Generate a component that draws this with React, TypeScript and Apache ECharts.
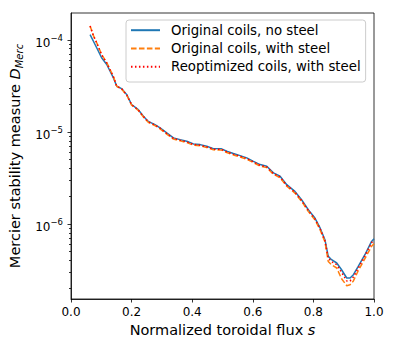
import React, { useEffect, useRef } from "react";
import * as echarts from "echarts";

const S = [0.063, 0.074, 0.086, 0.101, 0.118, 0.14, 0.151, 0.167, 0.184, 0.2, 0.222, 0.239, 0.255, 0.277, 0.294, 0.316, 0.338, 0.36, 0.382, 0.404, 0.426, 0.448, 0.47, 0.497, 0.514, 0.536, 0.558, 0.58, 0.602, 0.624, 0.646, 0.668, 0.69, 0.712, 0.739, 0.761, 0.783, 0.805, 0.822, 0.838, 0.849, 0.86, 0.877, 0.893, 0.91, 0.921, 0.932, 0.948, 0.97, 0.992, 1.0];

const noSteel = [1.13e-4, 9.58e-5, 7.98e-5, 6.33e-5, 5.35e-5, 3.83e-5, 3.11e-5, 2.93e-5, 2.52e-5, 1.97e-5, 1.73e-5, 1.47e-5, 1.29e-5, 1.19e-5, 1.10e-5, 9.68e-6, 8.54e-6, 8.18e-6, 7.84e-6, 7.35e-6, 7.22e-6, 6.92e-6, 6.53e-6, 6.49e-6, 6.11e-6, 5.77e-6, 5.48e-6, 5.18e-6, 4.75e-6, 4.38e-6, 4.20e-6, 3.56e-6, 3.27e-6, 2.65e-6, 2.24e-6, 1.82e-6, 1.42e-6, 1.15e-6, 8.98e-7, 6.70e-7, 4.41e-7, 4.06e-7, 3.74e-7, 3.16e-7, 2.57e-7, 2.57e-7, 2.79e-7, 3.43e-7, 4.60e-7, 6.42e-7, 6.87e-7];

const withSteel = [1.40e-4, 1.10e-4, 9.05e-5, 6.87e-5, 5.62e-5, 3.96e-5, 3.10e-5, 2.90e-5, 2.48e-5, 1.94e-5, 1.70e-5, 1.44e-5, 1.26e-5, 1.16e-5, 1.07e-5, 9.40e-6, 8.30e-6, 7.95e-6, 7.60e-6, 7.12e-6, 7.00e-6, 6.72e-6, 6.33e-6, 6.30e-6, 5.92e-6, 5.58e-6, 5.30e-6, 5.01e-6, 4.60e-6, 4.23e-6, 4.06e-6, 3.44e-6, 3.15e-6, 2.55e-6, 2.15e-6, 1.75e-6, 1.36e-6, 1.10e-6, 8.60e-7, 6.37e-7, 3.89e-7, 3.58e-7, 3.30e-7, 2.52e-7, 2.12e-7, 2.17e-7, 2.39e-7, 3.08e-7, 4.17e-7, 5.67e-7, 6.06e-7];

const reoptimized = [1.40e-4, 1.10e-4, 9.0e-5, 6.8e-5, 5.55e-5, 3.92e-5, 3.11e-5, 2.92e-5, 2.50e-5, 1.96e-5, 1.72e-5, 1.46e-5, 1.28e-5, 1.18e-5, 1.09e-5, 9.55e-6, 8.45e-6, 8.08e-6, 7.74e-6, 7.25e-6, 7.12e-6, 6.83e-6, 6.44e-6, 6.40e-6, 6.03e-6, 5.69e-6, 5.40e-6, 5.11e-6, 4.69e-6, 4.31e-6, 4.14e-6, 3.51e-6, 3.22e-6, 2.61e-6, 2.20e-6, 1.79e-6, 1.40e-6, 1.13e-6, 8.85e-7, 6.54e-7, 4.24e-7, 3.86e-7, 3.58e-7, 2.96e-7, 2.39e-7, 2.39e-7, 2.64e-7, 3.30e-7, 4.49e-7, 6.20e-7, 6.70e-7];

const seriesNames = ["Original coils, no steel", "Original coils, with steel", "Reoptimized coils, with steel"];

const yMajorTicks = [1e-6, 1e-5, 1e-4];
const yMinorTicks = [2e-7, 3e-7, 4e-7, 5e-7, 6e-7, 7e-7, 8e-7, 9e-7, 2e-6, 3e-6, 4e-6, 5e-6, 6e-6, 7e-6, 8e-6, 9e-6, 2e-5, 3e-5, 4e-5, 5e-5, 6e-5, 7e-5, 8e-5, 9e-5];

const FONT = "DejaVu Sans";

export default function App() {
  const ref = useRef<HTMLDivElement>(null);
  useEffect(() => {
    if (!ref.current) return;
    const chart = echarts.init(ref.current, null, { renderer: "svg" });
    const mk = (vals: number[]) => S.map((s, i) => [s, vals[i]]);
    const tickData = [
      ...yMajorTicks.map((v) => [0, v, 3.5]),
      ...yMinorTicks.map((v) => [0, v, 2]),
    ];
    chart.setOption({
      animation: false,
      backgroundColor: "#fff",
      textStyle: { fontFamily: FONT },
      grid: { left: 71, right: 23, top: 13, bottom: 54, show: true, borderColor: "#000", borderWidth: 0.8, outerBoundsMode: "none" },
      legend: {
        data: seriesNames,
        orient: "vertical",
        left: 126,
        top: 20,
        itemWidth: 29,
        itemHeight: 14,
        itemGap: 5.3,
        padding: [3.7, 5, 8.7, 4],
        backgroundColor: "rgba(255,255,255,0.8)",
        borderColor: "#ccc",
        borderWidth: 1,
        borderRadius: 3,
        selectedMode: false,
        itemStyle: { color: "rgba(0,0,0,0)", borderWidth: 0, opacity: 0 },
        textStyle: { fontFamily: FONT, fontSize: 13.3, color: "#000", padding: [0, 0, 0, 6] },
      },
      xAxis: {
        type: "value",
        min: 0,
        max: 1,
        interval: 0.2,
        splitLine: { show: false },
        axisLine: { show: true, lineStyle: { color: "#000", width: 0.8 } },
        axisTick: { show: true, length: 3.5, lineStyle: { color: "#000", width: 0.8 } },
        axisLabel: { fontFamily: FONT, fontSize: 12, color: "#000", margin: 7, formatter: (v: number) => v.toFixed(1) },
        name: "{n|Normalized toroidal flux }{i|s}",
        nameLocation: "middle",
        nameGap: 23,
        nameTextStyle: {
          fontFamily: FONT,
          color: "#000",
          fontSize: 14.5,
          rich: {
            n: { fontFamily: FONT, fontSize: 14.5, color: "#000" },
            i: { fontFamily: FONT, fontSize: 14.5, color: "#000", fontStyle: "italic" },
          },
        },
      },
      yAxis: {
        type: "log",
        logBase: 10,
        min: 1.52e-7,
        max: 1.94e-4,
        splitLine: { show: false },
        axisLine: { show: true, lineStyle: { color: "#000", width: 0.8 } },
        axisTick: { show: false },
        axisLabel: {
          showMinLabel: false,
          showMaxLabel: false,
          margin: 8,
          color: "#000",
          fontFamily: FONT,
          formatter: (v: number) => {
            const e = Math.round(Math.log10(v));
            return "{b|10}{s|\u2212" + String(-e) + "}";
          },
          rich: {
            b: { fontFamily: FONT, fontSize: 12, color: "#000", lineHeight: 14, padding: [4, 0, 0, 0], verticalAlign: "top" },
            s: { fontFamily: FONT, fontSize: 8.5, color: "#000", lineHeight: 10, padding: [1, 0, 0, 0], verticalAlign: "top" },
          },
        },
        name: "{n|Mercier stability measure }{i|D}{sub|Merc}",
        nameLocation: "middle",
        nameRotate: 90,
        nameGap: 42,
        nameTextStyle: {
          fontFamily: FONT,
          color: "#000",
          fontSize: 14.5,
          rich: {
            n: { fontFamily: FONT, fontSize: 14.5, color: "#000", lineHeight: 17, padding: [0, 0, 2, 0], verticalAlign: "top" },
            i: { fontFamily: FONT, fontSize: 14.5, color: "#000", fontStyle: "italic", lineHeight: 17, padding: [0, 0, 2, 0], verticalAlign: "top" },
            sub: { fontFamily: FONT, fontSize: 10, color: "#000", fontStyle: "italic", lineHeight: 12, verticalAlign: "bottom" },
          },
        },
      },
      series: [
        {
          name: seriesNames[0],
          type: "line",
          data: mk(noSteel),
          symbol: "none",
          lineStyle: { color: "#1f77b4", width: 1.5 },
          itemStyle: { color: "#1f77b4" },
          z: 2,
        },
        {
          name: seriesNames[1],
          type: "line",
          data: mk(withSteel),
          symbol: "none",
          lineStyle: { color: "#ff7f0e", width: 1.5, type: [5.55, 2.4] },
          itemStyle: { color: "#ff7f0e" },
          z: 3,
        },
        {
          name: seriesNames[2],
          type: "line",
          data: mk(reoptimized),
          symbol: "none",
          lineStyle: { color: "#ff0000", width: 1.5, type: [1.5, 2.475] },
          itemStyle: { color: "#ff0000" },
          z: 4,
        },
        {
          type: "custom",
          coordinateSystem: "cartesian2d",
          silent: true,
          clip: false,
          z: 5,
          data: tickData,
          renderItem: (params: any, api: any) => {
            const p = api.coord([0, api.value(1)]);
            const len = api.value(2);
            const y = Math.round(p[1]) + 0.5;
            return {
              type: "line",
              shape: { x1: p[0] - len, y1: y, x2: p[0], y2: y },
              style: { stroke: "#000", lineWidth: 0.8 },
            };
          },
        },
      ],
    });
    return () => chart.dispose();
  }, []);
  return <div ref={ref} style={{ position: "fixed", left: 0, top: 0, width: 397, height: 353 }} />;
}
